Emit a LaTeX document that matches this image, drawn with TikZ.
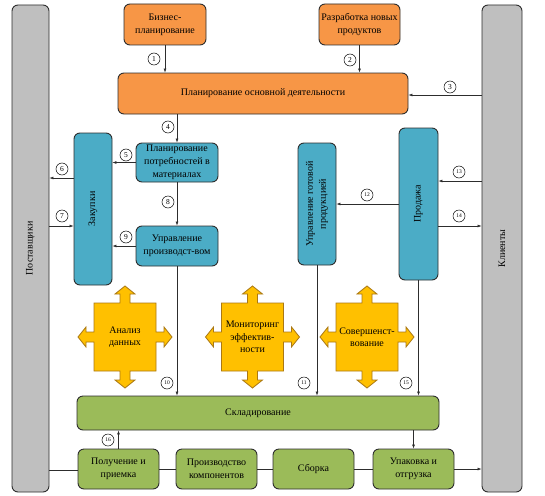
\documentclass[tikz,border=0pt]{standalone}
\usepackage{fontspec}
\setmainfont{Liberation Serif}
\usetikzlibrary{arrows.meta}

\definecolor{planorange}{RGB}{247,150,70}
\definecolor{procblue}{RGB}{75,172,198}
\definecolor{storegreen}{RGB}{155,187,89}
\definecolor{crossyellow}{RGB}{255,192,0}
\definecolor{crossline}{RGB}{170,120,20}
\definecolor{bargray}{RGB}{191,191,191}
\definecolor{edgedark}{RGB}{45,45,45}

\tikzset{
  box/.style={draw=edgedark, line width=0.9pt, rounded corners=6pt, align=center,
    font=\fontsize{10}{13}\selectfont, inner sep=1pt},
  orangebox/.style={box, fill=planorange},
  bluebox/.style={box, fill=procblue},
  greenbox/.style={box, fill=storegreen},
  sidebar/.style={box, fill=bargray, minimum width=37pt, minimum height=487pt},
  sidetext/.style={rotate=90, align=center, font=\fontsize{10}{13}\selectfont},
  flow/.style={draw=edgedark, line width=0.6pt, -{Latex[length=4pt,width=3pt]}},
  link/.style={draw=edgedark, line width=0.6pt},
  num/.style={draw, circle, line width=0.5pt, inner sep=0pt, minimum size=12pt,
    font=\fontsize{7.5}{8}\selectfont},
  crossfill/.style={draw=crossline, fill=crossyellow, line width=0.8pt},
  crosstext/.style={align=center, font=\fontsize{10}{12.5}\selectfont, inner sep=0pt}
}

% square with four arrows pointing out
\newcommand{\crossbox}[4]{%
  \begin{scope}[shift={(#2,#3)}]
    \draw[crossfill] (-31,-34) -- (-5,-34) -- (-5,-43) -- (-10,-43) -- (0,-51)
      -- (10,-43) -- (5,-43) -- (5,-34) -- (31,-34) -- (31,-5) -- (39,-5)
      -- (39,-10) -- (47,0) -- (39,10) -- (39,5) -- (31,5) -- (31,34)
      -- (5,34) -- (5,43) -- (10,43) -- (0,51) -- (-10,43) -- (-5,43)
      -- (-5,34) -- (-31,34) -- (-31,5) -- (-39,5) -- (-39,10) -- (-47,0)
      -- (-39,-10) -- (-39,-5) -- (-31,-5) -- cycle;
    \node[crosstext] (#1) at (0,0) {#4};
  \end{scope}}

\begin{document}
\begin{tikzpicture}[x=1pt, y=-1pt]
  \useasboundingbox (0,0) rectangle (545,495);

  % Suppliers and customers
  \node[sidebar, label={[sidetext]center:Поставщики}] (supp) at (30.5,248.5) {};
  \node[sidebar, minimum width=40pt, label={[sidetext]center:Клиенты}] (cust) at (502,248.5) {};

  % Planning
  \node[orangebox, minimum width=82pt, minimum height=41pt] (biz) at (165,24.5) {Бизнес-\\планирование};
  \node[orangebox, minimum width=81pt, minimum height=41pt] (newprod) at (359.5,24.5) {Разработка новых\\продуктов};
  \node[orangebox, minimum width=290pt, minimum height=41pt] (plan) at (263,93.5) {Планирование основной деятельности};

  % Processes
  \node[bluebox, minimum width=38pt, minimum height=152pt, label={[sidetext]center:Закупки}] (purch) at (93,209) {};
  \node[bluebox, minimum width=82pt, minimum height=39pt] (mrp) at (177,162.5) {Планирование\\потребностей в\\материалах};
  \node[bluebox, minimum width=82pt, minimum height=40pt] (prodmgmt) at (177,246) {Управление\\производст-вом};
  \node[bluebox, minimum width=38pt, minimum height=122pt, label={[sidetext]center:Управление готовой\\продукцией}] (fgm) at (317,204) {};
  \node[bluebox, minimum width=39pt, minimum height=152pt, label={[sidetext]center:Продажа}] (sales) at (418.5,204) {};

  % Support functions
  \crossbox{analysis}{125}{337}{Анализ\\данных}
  \crossbox{monitor}{252.5}{337}{Мониторинг\\эффектив-\\ности}
  \crossbox{improve}{367}{337}{Совершенст-\\вование}

  % Warehouse and production line
  \node[greenbox, minimum width=362pt, minimum height=34pt] (store) at (258,413) {Складирование};
  \node[greenbox, minimum width=81pt, minimum height=40pt] (recv) at (118.5,469) {Получение и\\приемка};
  \node[greenbox, minimum width=81pt, minimum height=40pt] (comp) at (216.5,469) {Производство\\компонентов};
  \node[greenbox, minimum width=81pt, minimum height=40pt] (asm) at (313.5,469) {Сборка};
  \node[greenbox, minimum width=81pt, minimum height=40pt] (pack) at (413.5,469) {Упаковка и\\отгрузка};

  % Outlets
  \coordinate (o3) at ([yshift=-1.5pt]plan.east);
  \coordinate (o6) at ([yshift=31pt]purch.west);
  \coordinate (o7) at ([yshift=-17pt]purch.west);
  \coordinate (o13) at ([yshift=23pt]sales.east);
  \coordinate (o14) at ([yshift=-22pt]sales.east);
  \coordinate (o0) at ([yshift=-1pt]recv.west);

  % Connectors
  \draw[flow] (biz) -- (biz |- plan.north);
  \draw[flow] (newprod) -- (newprod |- plan.north);
  \draw[flow] (o3 -| cust.west) -- (o3);
  \draw[flow] (plan.south -| mrp) -- (mrp.north);
  \draw[flow] (mrp.west) -- (mrp.west -| purch.east);
  \draw[flow] (o6) -- (o6 -| supp.east);
  \draw[flow] (o7 -| supp.east) -- (o7);
  \draw[flow] (mrp) -- (prodmgmt);
  \draw[flow] (prodmgmt.west) -- (prodmgmt.west -| purch.east);
  \draw[flow] (prodmgmt.south) -- (prodmgmt.south |- store.north);
  \draw[flow] (fgm.south) -- (fgm.south |- store.north);
  \draw[flow] (sales.west) -- (sales.west -| fgm.east);
  \draw[flow] (o13 -| cust.west) -- (o13);
  \draw[flow] (o14) -- (o14 -| cust.west);
  \draw[flow] (sales.south) -- (sales.south |- store.north);
  \draw[flow] (recv.north) -- (recv.north |- store.south);
  \draw[flow] (store.south -| pack.north) -- (pack.north);
  \draw[link] (o0 -| supp.east) -- (o0);
  \draw[link] (recv) -- (comp);
  \draw[link] (comp) -- (asm);
  \draw[link] (asm) -- (pack);
  \draw[flow] (pack.east) -- (pack.east -| cust.west);

  % Step numbers
  \foreach \n/\x/\y in {1/154/59, 2/350/60, 3/450/87, 4/168/127, 5/126/155,
      6/62/169, 7/62/216, 8/168/202, 9/126/237}
    \node[num] (n\n) at (\x,\y) {\n};
  \foreach \n/\x/\y in {10/167/383, 11/304/383, 12/367/195, 13/459/172,
      14/459/216, 15/406/383, 16/108/440}
    \node[num, font=\fontsize{5.5}{6}\selectfont] (n\n) at (\x,\y) {\n};
\end{tikzpicture}
\end{document}
